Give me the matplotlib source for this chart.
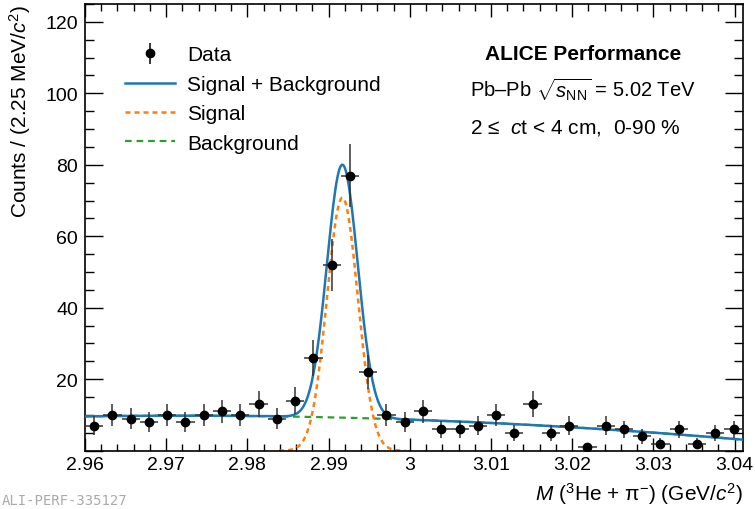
import numpy as np
import matplotlib
matplotlib.use("Agg")
import matplotlib.pyplot as plt
from matplotlib.ticker import MultipleLocator, FuncFormatter

plt.rcParams['font.family'] = ['Liberation Sans', 'DejaVu Sans']
plt.rcParams['mathtext.fontset'] = 'custom'
plt.rcParams['mathtext.rm'] = 'Liberation Sans'
plt.rcParams['mathtext.it'] = 'Liberation Sans:italic'
plt.rcParams['mathtext.bf'] = 'Liberation Sans:bold'

# histogram: 36 bins of 2.25 MeV starting at 2.96 GeV
bin_start = 2.96
bin_width = 0.00225
counts = [7, 10, 9, 8, 10, 8, 10, 11, 10, 13, 9, 14, 26, 52, 77, 22, 10, 8,
          11, 6, 6, 7, 10, 5, 13, 5, 7, 1, 7, 6, 4, 2, 6, 2, 5, 6]

# fit parameters (gaussian signal + quadratic background)
sig_amp = 70.8
sig_mu = 2.9917
sig_sigma = 0.0019
bkg_max = 9.8
bkg_m0 = 2.972
bkg_curv = 1410.0

counts = np.array(counts, dtype=float)
centers = bin_start + bin_width * (np.arange(len(counts)) + 0.5)
xlo, xhi = bin_start, bin_start + bin_width * len(counts)


def signal(m):
    return sig_amp * np.exp(-0.5 * ((m - sig_mu) / sig_sigma) ** 2)


def background(m):
    return bkg_max - bkg_curv * (m - bkg_m0) ** 2


fig = plt.figure(figsize=(7.55, 5.1), dpi=100)
ax = fig.add_axes([85 / 755, 1 - 451.7 / 510, (742.7 - 85) / 755, (451.7 - 5) / 510])

m_all = np.linspace(xlo, xhi, 600)
m_sig = np.linspace(sig_mu - 0.0078, sig_mu + 0.0078, 300)

l_bkg, = ax.plot(m_all, background(m_all), color='#2ca02c', lw=1.6, ls=(0, (3, 2.2)), zorder=2)
l_tot, = ax.plot(m_all, signal(m_all) + background(m_all), color='#1f77b4', lw=1.8, zorder=3)
l_sig, = ax.plot(m_sig, signal(m_sig), color='#ff7f0e', lw=1.8, ls=(0, (2, 1.6)), zorder=2.5)

ax.errorbar(centers, counts, yerr=np.sqrt(counts), xerr=bin_width / 2, fmt='o',
            color='black', ecolor='#333333', elinewidth=1.1, capsize=0, ms=6, zorder=4)
h_data = ax.errorbar([np.nan], [np.nan], yerr=[1], fmt='o', color='black',
                     elinewidth=1.1, capsize=0, ms=6)

ax.set_xlim(xlo, xhi)
ax.set_ylim(0, 125)
ax.xaxis.set_major_locator(MultipleLocator(0.01))
ax.xaxis.set_minor_locator(MultipleLocator(0.002))
ax.yaxis.set_major_locator(MultipleLocator(20))
ax.yaxis.set_minor_locator(MultipleLocator(5))
ax.xaxis.set_major_formatter(FuncFormatter(lambda v, p: f"{v:.2f}".rstrip('0').rstrip('.')))
ax.yaxis.set_major_formatter(FuncFormatter(lambda v, p: "" if v < 1 else f"{v:.0f}"))

ax.tick_params(axis='both', which='both', direction='in', top=True, right=True, labelsize=14)
ax.tick_params(axis='x', which='major', length=9.5, width=1.0, pad=4)
ax.tick_params(axis='x', which='minor', length=5, width=1.0)
ax.tick_params(axis='y', which='major', length=13, width=1.0, pad=5)
ax.tick_params(axis='y', which='minor', length=6.5, width=1.0)
for s in ax.spines.values():
    s.set_linewidth(1.2)

ax.set_xlabel(r'$M$ ($^{3}$He + π$^{-}$) (GeV/$c^{2}$)', fontsize=15, loc='right', labelpad=5)
ax.set_ylabel(r'Counts / (2.25 MeV/$c^{2}$)', fontsize=15, loc='top', labelpad=9)

ax.legend([h_data, l_tot, l_sig, l_bkg],
          ['Data', 'Signal + Background', 'Signal', 'Background'],
          loc='upper left', bbox_to_anchor=(0.166, 0.909), bbox_transform=fig.transFigure,
          frameon=False, fontsize=15, handlelength=2.4, handletextpad=0.55,
          labelspacing=0.5, borderpad=0, borderaxespad=0)

fig.text(583 / 755, 1 - 55 / 510, 'ALICE Performance', fontsize=15, fontweight='bold',
         ha='center', va='center')
fig.text(470 / 755, 1 - 90 / 510, r'Pb–Pb $\sqrt{s_{\mathrm{NN}}}$ = 5.02 TeV', fontsize=14.5,
         ha='left', va='center')
fig.text(470 / 755, 1 - 128 / 510, r'2 ≤  $c$t < 4 cm,  0-90 %', fontsize=15,
         ha='left', va='center')

fig.text(0.002, 0.004, 'ALI-PERF-335127', fontsize=10, family='DejaVu Sans Mono',
         color='#aaaaaa', ha='left', va='bottom')

fig.savefig('out.png', dpi=100)
